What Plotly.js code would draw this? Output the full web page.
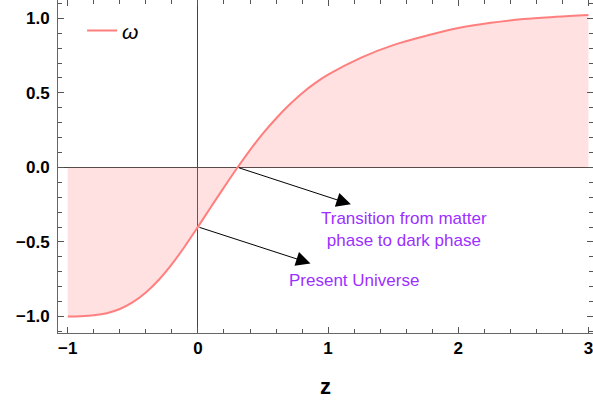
<!DOCTYPE html>
<html>
<head>
<meta charset="utf-8">
<script src="https://cdn.plot.ly/plotly-3.0.1.min.js"></script>
<style>
  html, body { margin: 0; padding: 0; background: #fff; }
  #chart { width: 593px; height: 400px; }
</style>
</head>
<body>
<div id="chart"></div>
<script>
// equation of state parameter omega(z)
const zVals = [-1.0, -0.9, -0.8, -0.7, -0.6, -0.5, -0.4, -0.3, -0.2, -0.1, 0.0,
               0.1, 0.2, 0.3, 0.4, 0.5, 0.6, 0.7, 0.8, 0.9, 1.0,
               1.25, 1.5, 1.75, 2.0, 2.25, 2.5, 2.75, 3.0];
const wVals = [-1.0, -0.998, -0.992, -0.978, -0.95, -0.904, -0.839, -0.754, -0.649, -0.529, -0.399,
               -0.266, -0.134, -0.006, 0.116, 0.228, 0.328, 0.418, 0.498, 0.565, 0.622,
               0.735, 0.82, 0.882, 0.935, 0.97, 0.995, 1.01, 1.022];

// arrows: [tailX, tailY, headX, headY]
const transitionArrow = [0.305, 0.0, 1.175, -0.248];
const presentArrow = [0.0, -0.399, 0.865, -0.644];

const transitionLabel = 'Transition from matter<br>phase to dark phase';
const presentLabel = 'Present Universe';

const tickFont = {family: 'Liberation Sans, Arial, sans-serif', size: 17, weight: 'bold', color: '#000'};
const noteFont = {family: 'Liberation Sans, Arial, sans-serif', size: 17, color: '#9b30ff'};

// shaded area to the axis (no legend entry)
const fillTrace = {
  x: zVals,
  y: wVals,
  type: 'scatter',
  mode: 'lines',
  line: {width: 0, shape: 'spline', smoothing: 1},
  fill: 'tozeroy',
  fillcolor: 'rgba(255,128,128,0.24)',
  showlegend: false
};

const lineTrace = {
  x: zVals,
  y: wVals,
  name: 'ω',
  type: 'scatter',
  mode: 'lines',
  line: {color: '#ff7f7f', width: 2, shape: 'spline', smoothing: 1}
};

function arrow(a){
  return {
    x: a[2], y: a[3], xref: 'x', yref: 'y',
    ax: a[0], ay: a[1], axref: 'x', ayref: 'y',
    showarrow: true, arrowhead: 2, arrowsize: 2.9, arrowwidth: 1, arrowcolor: '#000',
    text: ''
  };
}

const layout = {
  width: 593,
  height: 400,
  margin: {l: 58, r: 0, t: 0, b: 67},
  paper_bgcolor: '#fff',
  plot_bgcolor: '#fff',
  showlegend: true,
  legend: {
    x: 0.045, y: 0.969, xanchor: 'left', yanchor: 'top',
    bgcolor: 'rgba(0,0,0,0)',
    font: {family: 'Liberation Sans, Arial, sans-serif', size: 21, style: 'italic', color: '#000'}
  },
  xaxis: {
    range: [-1.075, 3.035],
    dtick: 1, tick0: 0,
    ticks: 'inside', ticklen: 6, tickcolor: '#555', tickwidth: 1,
    minor: {dtick: 0.2, ticks: 'inside', ticklen: 4, tickcolor: '#555'},
    showline: true, linecolor: '#666', linewidth: 1, mirror: 'ticks',
    showgrid: false,
    zeroline: true, zerolinecolor: '#444', zerolinewidth: 1,
    tickfont: tickFont,
    ticklabeloverflow: 'allow',
    title: {text: 'z', font: {family: 'Liberation Sans, Arial, sans-serif', size: 22, weight: 'bold', color: '#000'}, standoff: 21}
  },
  yaxis: {
    range: [-1.111, 1.123],
    dtick: 0.5, tick0: 0, tickformat: '.1f',
    ticks: 'inside', ticklen: 6, tickcolor: '#555', tickwidth: 1,
    minor: {dtick: 0.1, ticks: 'inside', ticklen: 4, tickcolor: '#555'},
    showline: true, linecolor: '#666', linewidth: 1, mirror: 'ticks',
    showgrid: false,
    zeroline: true, zerolinecolor: '#444', zerolinewidth: 1,
    tickfont: tickFont,
    ticklabelstandoff: 4
  },
  annotations: [
    arrow(transitionArrow),
    arrow(presentArrow),
    {x: 1.58, y: -0.414, xref: 'x', yref: 'y', text: transitionLabel, showarrow: false, font: noteFont, align: 'center'},
    {x: 1.2, y: -0.757, xref: 'x', yref: 'y', text: presentLabel, showarrow: false, font: noteFont}
  ]
};

Plotly.newPlot('chart', [fillTrace, lineTrace], layout, {displayModeBar: false, staticPlot: true});
</script>
</body>
</html>
